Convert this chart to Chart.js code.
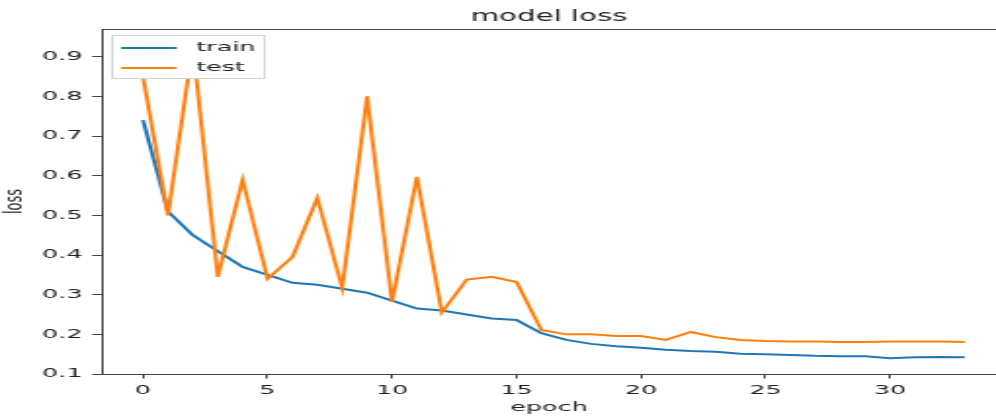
<!DOCTYPE html>
<html lang="en">
<head>
    <meta charset="UTF-8">
    <title>model loss</title>
    <script src="https://cdn.jsdelivr.net/npm/chart.js"></script>
    <style>
        html, body {
            margin: 0;
            padding: 0;
            background: #fff;
            overflow: hidden;
        }

        /* the reference is a matplotlib figure stretched sideways, so the
           canvas is drawn narrow and widened by css */
        #lossChart {
            width: 996px;
            height: 416px;
        }
    </style>
</head>
<body>
    <canvas id="lossChart" width="510" height="416" style="width:996px;height:416px"></canvas>

    <script>
        const epochs = [0, 1, 2, 3, 4, 5, 6, 7, 8, 9, 10, 11, 12, 13, 14, 15, 16,
                        17, 18, 19, 20, 21, 22, 23, 24, 25, 26, 27, 28, 29, 30, 31, 32, 33];

        const trainLoss = [0.74, 0.51, 0.45, 0.41, 0.37, 0.35, 0.33, 0.325, 0.315, 0.305,
                           0.285, 0.265, 0.26, 0.25, 0.24, 0.236, 0.203, 0.186, 0.176, 0.17,
                           0.166, 0.161, 0.158, 0.156, 0.151, 0.15, 0.148, 0.146, 0.145, 0.145,
                           0.14, 0.142, 0.143, 0.142];

        const testLoss = [0.85, 0.50, 0.93, 0.345, 0.59, 0.34, 0.395, 0.544, 0.317, 0.80,
                          0.282, 0.597, 0.255, 0.338, 0.345, 0.332, 0.211, 0.20, 0.20, 0.196,
                          0.196, 0.186, 0.206, 0.193, 0.186, 0.183, 0.182, 0.182, 0.181, 0.181,
                          0.182, 0.182, 0.182, 0.181];

        const xTicks = [0, 5, 10, 15, 20, 25, 30];
        const yTicks = [0.1, 0.2, 0.3, 0.4, 0.5, 0.6, 0.7, 0.8, 0.9];
        const yTickLabels = ['0.1', '0.2', '0.3', '0.4', '0.5', '0.6', '0.7', '0.8', '0.9'];

        const AXIS_COLOR = '#444';
        const TEXT_COLOR = '#222';
        const tickFont = { family: 'DejaVu Sans', size: 13 };

        Chart.defaults.font.family = 'DejaVu Sans';

        // matplotlib draws a frame on all four sides, chart.js only the axis lines
        const topFrame = {
            id: 'topFrame',
            afterDatasetsDraw(chart) {
                const { ctx, chartArea } = chart;
                ctx.save();
                ctx.strokeStyle = AXIS_COLOR;
                ctx.lineWidth = 1;
                ctx.beginPath();
                ctx.moveTo(chartArea.left, chartArea.top + 0.5);
                ctx.lineTo(chartArea.right, chartArea.top + 0.5);
                ctx.stroke();
                ctx.restore();
            }
        };

        // legend in the upper left corner, inside the plot, covering the lines
        const innerLegend = {
            id: 'innerLegend',
            afterDraw(chart) {
                const { ctx, chartArea } = chart;
                const x = Math.round(chartArea.left + 5) + 0.5;
                const y = Math.round(chartArea.top + 6) + 0.5;
                const w = 78;
                const h = 43;
                ctx.save();
                ctx.fillStyle = '#ffffff';
                ctx.fillRect(x, y, w, h);
                ctx.strokeStyle = '#d4d4d4';
                ctx.lineWidth = 1;
                ctx.strokeRect(x, y, w, h);

                ctx.font = '13px "DejaVu Sans"';
                ctx.textBaseline = 'middle';
                ctx.textAlign = 'left';
                chart.data.datasets.forEach((ds, i) => {
                    const rowY = y + 12.5 + i * 20;
                    ctx.strokeStyle = ds.borderColor;
                    ctx.lineWidth = 2;
                    ctx.beginPath();
                    ctx.moveTo(x + 4.5, rowY);
                    ctx.lineTo(x + 33, rowY);
                    ctx.stroke();
                    ctx.fillStyle = TEXT_COLOR;
                    ctx.fillText(ds.label, x + 43, rowY);
                });
                ctx.restore();
            }
        };

        const lossChart = new Chart(document.getElementById('lossChart'), {
            type: 'line',
            data: {
                datasets: [
                    {
                        label: 'train',
                        data: epochs.map((e, i) => ({ x: e, y: trainLoss[i] })),
                        borderColor: '#1f77b4',
                        borderWidth: 2,
                        pointRadius: 0,
                        tension: 0,
                        fill: false,
                        order: 1
                    },
                    {
                        label: 'test',
                        data: epochs.map((e, i) => ({ x: e, y: testLoss[i] })),
                        borderColor: '#ff7f0e',
                        borderWidth: 2,
                        pointRadius: 0,
                        tension: 0,
                        fill: false,
                        order: 0
                    }
                ]
            },
            options: {
                responsive: false,
                animation: false,
                devicePixelRatio: 1,
                layout: { padding: 0 },
                plugins: {
                    legend: { display: false },
                    tooltip: { enabled: false },
                    title: {
                        display: true,
                        fullSize: false, // center over the plot, not the whole canvas
                        text: 'model loss',
                        color: TEXT_COLOR,
                        font: { family: 'DejaVu Sans', size: 15, weight: 'normal' },
                        padding: { top: 8, bottom: 3 }
                    }
                },
                scales: {
                    x: {
                        type: 'linear',
                        min: -1.65,
                        max: 34.26,
                        afterBuildTicks: scale => {
                            scale.ticks = xTicks.map(v => ({ value: v }));
                        },
                        afterFit: scale => {
                            scale.height = 42;
                        },
                        ticks: {
                            autoSkip: false,
                            maxRotation: 0,
                            padding: 4,
                            color: TEXT_COLOR,
                            font: tickFont,
                            callback: value => String(value)
                        },
                        grid: {
                            drawOnChartArea: false,
                            drawTicks: true,
                            tickLength: 4.5,
                            color: AXIS_COLOR
                        },
                        border: { display: true, color: AXIS_COLOR, width: 1 },
                        title: {
                            display: true,
                            text: 'epoch',
                            color: TEXT_COLOR,
                            font: tickFont,
                            padding: { top: 0, bottom: 1 }
                        }
                    },
                    y: {
                        min: 0.1,
                        max: 0.97,
                        afterBuildTicks: scale => {
                            scale.ticks = yTicks.map(v => ({ value: v }));
                        },
                        afterFit: scale => {
                            scale.width = 52.2;
                        },
                        ticks: {
                            autoSkip: false,
                            padding: 5,
                            color: TEXT_COLOR,
                            font: tickFont,
                            callback: (value, index) => yTickLabels[index]
                        },
                        grid: {
                            drawOnChartArea: false,
                            drawTicks: true,
                            tickLength: 5,
                            color: AXIS_COLOR
                        },
                        border: { display: true, color: AXIS_COLOR, width: 1 },
                        title: {
                            display: true,
                            text: 'loss',
                            color: TEXT_COLOR,
                            font: tickFont,
                            padding: 0
                        }
                    }
                }
            },
            plugins: [topFrame, innerLegend]
        });
    </script>
</body>
</html>
